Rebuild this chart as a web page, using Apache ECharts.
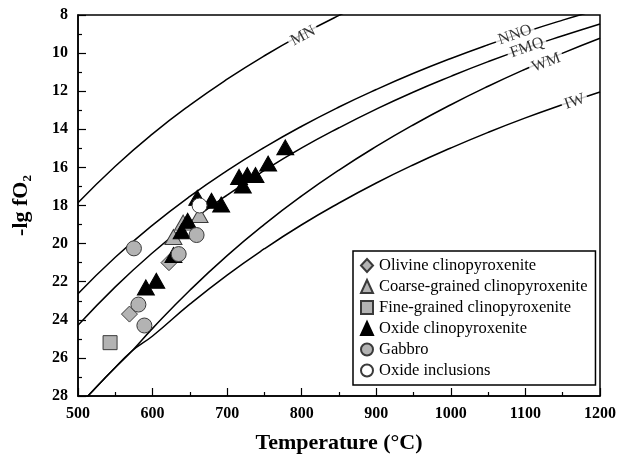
<!DOCTYPE html>
<html><head><meta charset="utf-8">
<script src="https://cdn.jsdelivr.net/npm/echarts@6/dist/echarts.min.js"></script>
<style>html,body{margin:0;padding:0;background:#fff}#c{width:620px;height:461px}</style>
</head><body><div id="c"></div>
<script>
// ---- buffer curves ----
const mnT = [500,550,600,650,700,750,800,850,900];
const mnValues = [17.86,15.94,14.24,12.73,11.37,10.14,9.03,8.02,7.09];
const bufferT = [500,550,600,650,700,750,800,850,900,950,1000,1050,1100,1150,1200];
const nnoValues = [22.63,20.72,19.03,17.52,16.17,14.95,13.84,12.83,11.91,11.06,10.28,9.56,8.89,8.27,7.69];
const fmqValues = [24.29,22.27,20.48,18.88,17.45,16.16,14.98,13.92,12.94,12.04,11.22,10.45,9.74,9.09,8.47];
const lowT = [500,520,545,572,600,650,700,750,800,850,900,950,1000,1050,1100,1150,1200];
const wmValues = [28.55,27.72,26.70,25.65,24.45,22.45,20.63,18.99,17.50,16.14,14.90,13.76,12.71,11.74,10.84,10.00,9.22];
const iwValues = [28.55,27.72,26.70,25.65,24.85,23.18,21.65,20.27,19.01,17.87,16.82,15.86,14.98,14.16,13.40,12.70,12.04];
// curve label anchors
const curveNames = ['MN','NNO','FMQ','WM','IW'];
const curveLabelT = [802,1086,1102,1128,1166];
const curveLabelV = [9.1,9.05,9.72,10.5,12.55];
const curveLabelRot = [28,19,19,21,19];

// ---- samples ----
const olivineT = [569,622];
const olivineV = [23.7,21.0];
const coarseT = [628,641,663];
const coarseV = [19.65,18.9,18.5];
const fineT = [543];
const fineV = [25.2];
const oxideT = [591,605,628,639,647,660,679,692,716,721,727,738,755,778];
const oxideV = [22.3,21.95,20.6,19.35,18.8,17.6,17.75,17.95,16.5,16.95,16.4,16.4,15.8,14.95];
const gabbroT = [575,581,589,635,659];
const gabbroV = [20.25,23.2,24.3,20.55,19.55];
const inclusionT = [663];
const inclusionV = [18.0];

const zip = (a,b)=>a.map((v,i)=>[v,b[i]]);
const serif = '"Liberation Serif","DejaVu Serif",serif';
const gray = '#b3b3b3';
const edge = '#3a3a3a';

function curve(name, xs, ys){
  return {name:name, type:'line', data:zip(xs,ys), smooth:0.5,
    symbol:'none', lineStyle:{color:'#000', width:1.5}, silent:true, z:2, legendHoverLink:false};
}
function pts(name, xs, ys, symbol, size, fill, z){
  return {name:name, type:'scatter', data:zip(xs,ys), symbol:symbol, symbolSize:size,
    itemStyle:{color:fill, borderColor: fill==='#000'?'#000':edge, borderWidth:1, opacity:1}, z:z};
}

const chart = echarts.init(document.getElementById('c'), null, {renderer:'canvas'});
chart.setOption({
  animation:false,
  backgroundColor:'#fff',
  grid:{left:78, top:15, width:522, height:381, show:true, borderColor:'#000', borderWidth:1.5, backgroundColor:'transparent'},
  xAxis:{type:'value', min:500, max:1200, interval:100,
    name:'Temperature (°C)', nameLocation:'middle', nameGap:36,
    nameTextStyle:{fontFamily:serif, fontWeight:'bold', fontSize:22, color:'#000'},
    axisLine:{show:true, onZero:false, lineStyle:{color:'#000', width:1.5}},
    axisTick:{show:true, inside:true, length:8, lineStyle:{color:'#000', width:1.2}},
    minorTick:{show:true, splitNumber:2, length:4, lineStyle:{color:'#000', width:1.2}},
    splitLine:{show:false},
    axisLabel:{fontFamily:serif, fontWeight:'bold', fontSize:16, color:'#000', margin:10, formatter:v=>String(v)}
  },
  yAxis:{type:'value', min:8, max:28, interval:2, inverse:true,
    name:'{a|-lg fO}{s|2}', nameLocation:'middle', nameGap:44, nameRotate:90,
    nameTextStyle:{rich:{
      a:{fontFamily:serif, fontWeight:'bold', fontSize:22, color:'#000'},
      s:{fontFamily:serif, fontWeight:'bold', fontSize:13, color:'#000', verticalAlign:'bottom', padding:[12,0,0,0]}}},
    axisLine:{show:true, onZero:false, lineStyle:{color:'#000', width:1.5}},
    axisTick:{show:true, inside:true, length:8, lineStyle:{color:'#000', width:1.2}},
    minorTick:{show:true, splitNumber:2, length:4, lineStyle:{color:'#000', width:1.2}},
    splitLine:{show:false},
    axisLabel:{fontFamily:serif, fontWeight:'bold', fontSize:16, color:'#000', margin:10, formatter:v=>String(v)}
  },
  legend:{orient:'vertical', left:353, top:251, padding:[6,8,6,7], itemGap:4,
    itemWidth:12, itemHeight:13, borderColor:'#000', borderWidth:1.5, backgroundColor:'#fff',
    textStyle:{fontFamily:serif, fontSize:16.5, color:'#000', padding:[0,0,0,1]},
    data:['Olivine clinopyroxenite','Coarse-grained clinopyroxenite','Fine-grained clinopyroxenite','Oxide clinopyroxenite','Gabbro','Oxide inclusions'],
    selectedMode:false},
  series:[
    curve('MN', mnT, mnValues),
    curve('NNO', bufferT, nnoValues),
    curve('FMQ', bufferT, fmqValues),
    curve('WM', lowT, wmValues),
    curve('IW', lowT, iwValues),
    {name:'labels', type:'scatter', symbolSize:0, silent:true, z:3,
      data: curveNames.map((n,i)=>({value:[curveLabelT[i], curveLabelV[i]],
        label:{show:true, position:'inside', formatter:n, rotate:curveLabelRot[i],
          fontFamily:serif, fontSize:16, color:'#000', backgroundColor:'#fff', padding:[0,3,0,3]}})),
      labelLayout:{hideOverlap:false}},
    pts('Olivine clinopyroxenite', olivineT, olivineV, 'diamond', 16, gray, 4),
    pts('Coarse-grained clinopyroxenite', coarseT, coarseV, 'triangle', [17,15], gray, 4),
    pts('Fine-grained clinopyroxenite', fineT, fineV, 'rect', 14, gray, 4),
    pts('Oxide clinopyroxenite', oxideT, oxideV, 'triangle', [17,15], '#000', 5),
    pts('Gabbro', gabbroT, gabbroV, 'circle', 15, gray, 5),
    pts('Oxide inclusions', inclusionT, inclusionV, 'circle', 15, '#fff', 6)
  ]
});
</script></body></html>
